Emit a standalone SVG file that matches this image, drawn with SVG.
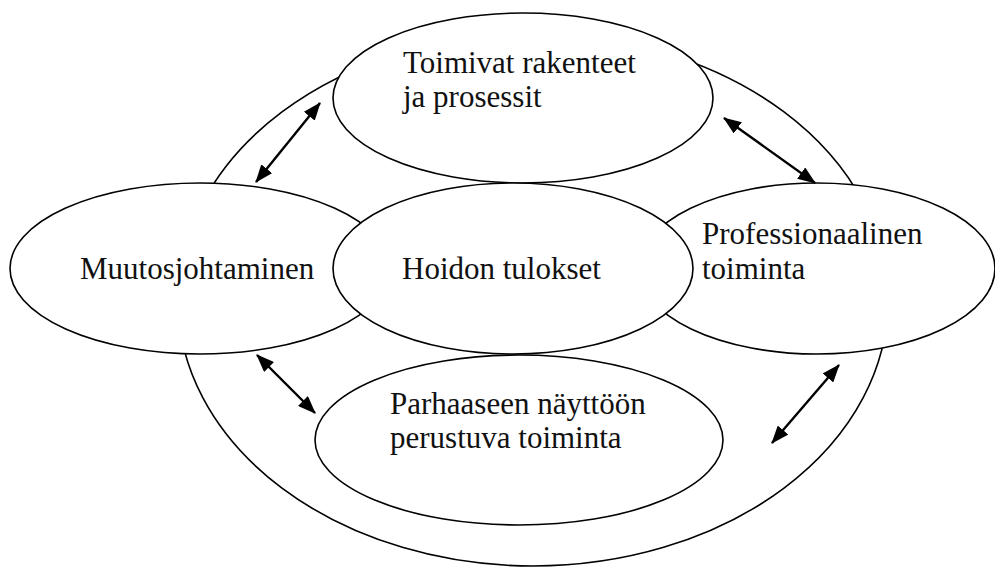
<svg xmlns="http://www.w3.org/2000/svg" width="995" height="570" viewBox="0 0 995 570">
<defs>
<marker id="ah" viewBox="0 0 18 14" refX="17" refY="7" markerWidth="18" markerHeight="14" markerUnits="userSpaceOnUse" orient="auto-start-reverse">
<path d="M0,0 L18,7 L0,14 z" fill="#000"/>
</marker>
<style>
.e{fill:#fff;stroke:#000;stroke-width:1.6}
.t{font-family:"Liberation Serif","Times New Roman",serif;font-size:31px;fill:#111}
.c line{stroke:#000;stroke-width:2.4}
</style>
</defs>
<rect width="995" height="570" fill="#fff"/>
<g id="outer"><ellipse class="e" cx="533" cy="300" rx="355" ry="266"/></g>
<g id="rakenteet"><ellipse class="e" cx="523" cy="98" rx="190" ry="85"/>
<text class="t" x="403" y="73">Toimivat rakenteet</text><text class="t" x="403" y="107">ja prosessit</text></g>
<g id="muutosjohtaminen"><ellipse class="e" cx="200" cy="268.5" rx="190" ry="85.5"/>
<text class="t" x="80" y="279">Muutosjohtaminen</text></g>
<g id="professionaalinen"><ellipse class="e" cx="817" cy="268.5" rx="178" ry="85.5"/>
<text class="t" x="702" y="244">Professionaalinen</text><text class="t" x="702" y="279">toiminta</text></g>
<g id="parhaaseen"><ellipse class="e" cx="519" cy="440" rx="204" ry="85"/>
<text class="t" x="390" y="414">Parhaaseen näyttöön</text><text class="t" x="390" y="448">perustuva toiminta</text></g>
<g id="hoidon"><ellipse class="e" cx="513" cy="268.5" rx="180" ry="85.5"/>
<text class="t" x="402" y="279">Hoidon tulokset</text></g>
<g id="connectors" class="c">
<line x1="320" y1="103" x2="256" y2="182" marker-start="url(#ah)" marker-end="url(#ah)"/>
<line x1="724" y1="118" x2="815" y2="183" marker-start="url(#ah)" marker-end="url(#ah)"/>
<line x1="257" y1="355" x2="315" y2="413" marker-start="url(#ah)" marker-end="url(#ah)"/>
<line x1="839" y1="365" x2="772" y2="443" marker-start="url(#ah)" marker-end="url(#ah)"/>
</g>
</svg>
